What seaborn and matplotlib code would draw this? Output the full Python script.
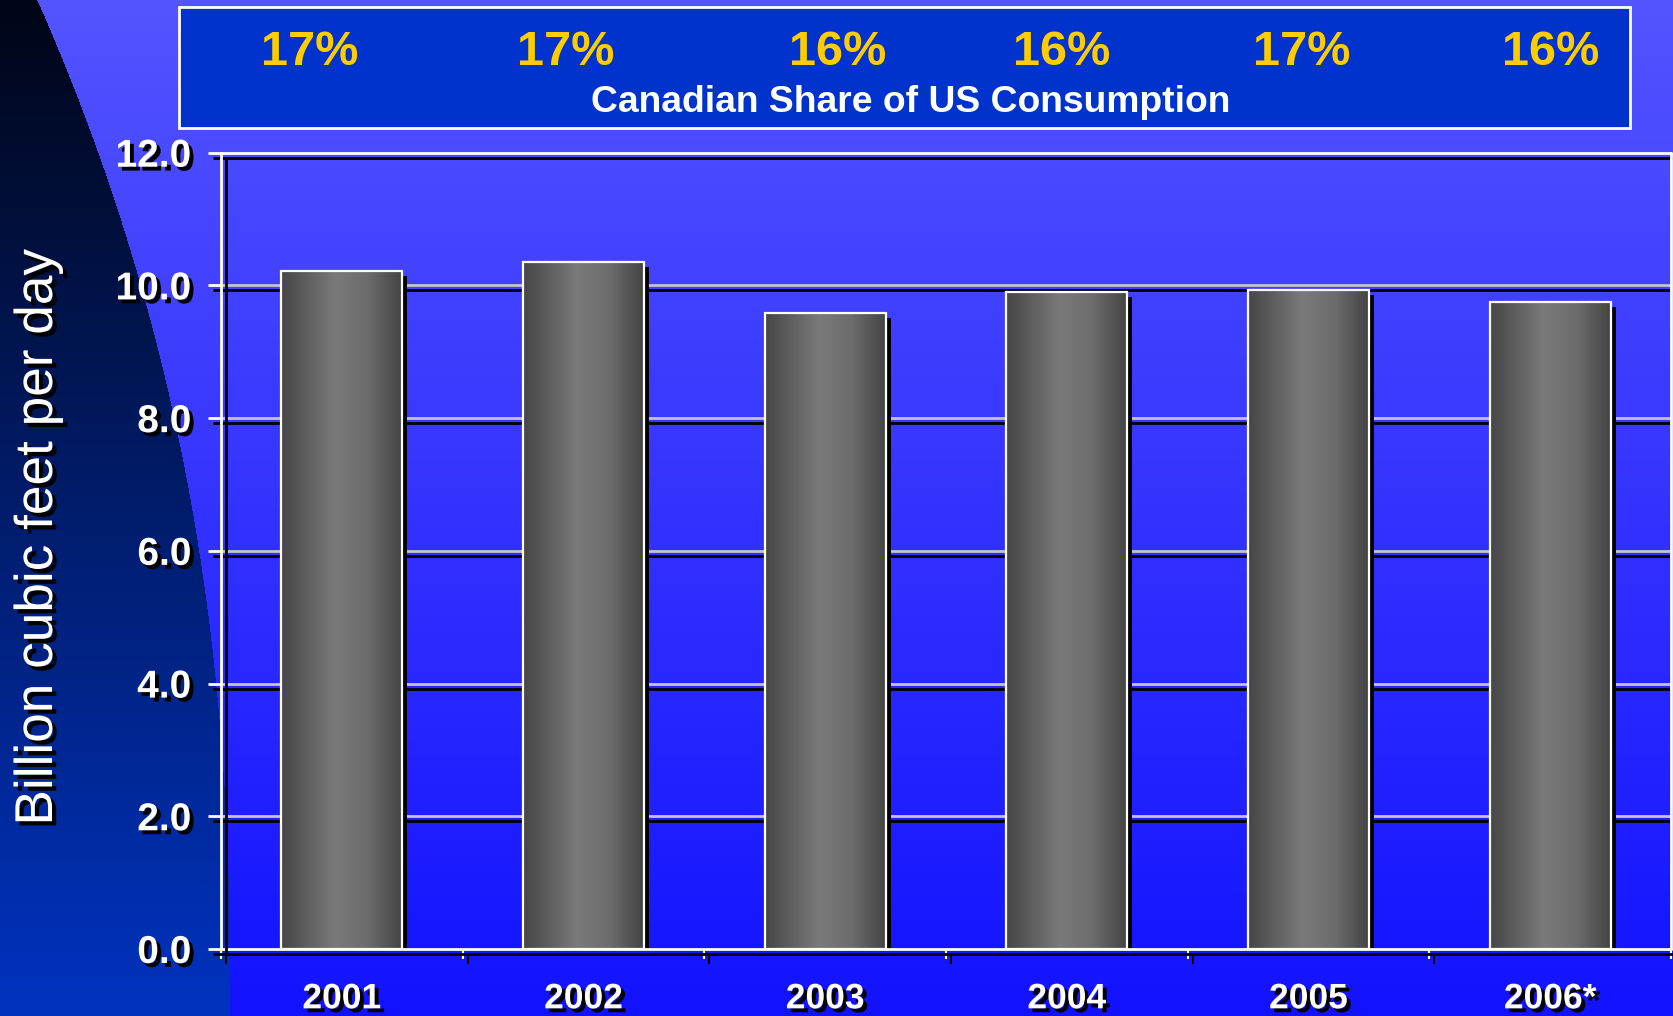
import numpy as np
import pandas as pd
import matplotlib
matplotlib.use("Agg")
import matplotlib.pyplot as plt
import matplotlib.patheffects as pe
from matplotlib.patches import Rectangle
from matplotlib.colors import LinearSegmentedColormap
import seaborn as sns

# ---------------- data ----------------
years = ["2001", "2002", "2003", "2004", "2005", "2006*"]
exports_bcfd = [10.21, 10.35, 9.58, 9.90, 9.93, 9.75]
canadian_share = ["17%", "17%", "16%", "16%", "17%", "16%"]
y_ticks = [0, 2, 4, 6, 8, 10, 12]
y_tick_labels = ["0.0", "2.0", "4.0", "6.0", "8.0", "10.0", "12.0"]
share_title = "Canadian Share of US Consumption"
y_title = "Billion cubic feet per day"

# ---------------- layout (pixels of the 1674x1016 canvas) ----------------
W, H, DPI = 1674, 1016, 100
share_label_x_px = [310, 566, 838, 1062, 1302, 1551]

sns.set_theme(style="white")
plt.rcParams["font.family"] = ["Liberation Sans", "DejaVu Sans"]

fig = plt.figure(figsize=(W / DPI, H / DPI), dpi=DPI)

# ---------------- slide background ----------------
bg = fig.add_axes([0, 0, 1, 1], zorder=-10)
yy, xx = np.mgrid[0:H, 0:W]
t = (yy / (H - 1))[..., None]
curve = 230 - 193 * (1 - yy / H) ** 2.33
is_left = (xx < curve)[..., None]
top_blue = np.array([0x54, 0x54, 0xFF]) / 255
bot_blue = np.array([0x12, 0x12, 0xFF]) / 255
top_dark = np.array([0x00, 0x05, 0x16]) / 255
bot_dark = np.array([0x00, 0x33, 0xC0]) / 255
blue = top_blue + (bot_blue - top_blue) * t
dark = top_dark + (bot_dark - top_dark) * t
img = np.where(is_left, dark, blue)
bg.imshow(img, extent=[0, W, H, 0], aspect="auto", interpolation="bilinear")
bg.set_xlim(0, W)
bg.set_ylim(H, 0)
bg.axis("off")

# ---------------- main axes ----------------
ax = fig.add_axes([221 / W, 1 - 949 / H, (1671 - 221) / W, (949 - 152.7) / H])
ax.patch.set_alpha(0)
for s in ax.spines.values():
    s.set_visible(False)

df = pd.DataFrame({"year": years, "value": exports_bcfd})
sns.barplot(data=df, x="year", y="value", ax=ax, width=0.5, color="#606060",
            saturation=1, edgecolor="none", zorder=3)

shadow_pt = 3.6
bar_shadow = [pe.SimplePatchShadow(offset=(shadow_pt, -shadow_pt),
                                   shadow_rgbFace="black", alpha=1), pe.Normal()]
grad_cmap = LinearSegmentedColormap.from_list(
    "cyl", [(0.0, "#464646"), (0.45, "#7a7a7a"), (0.72, "#6c6c6c"), (1.0, "#444444")])
grad = np.linspace(0, 1, 256)[None, :]

for p in list(ax.patches):
    p.set_path_effects(bar_shadow)
    x0, w, h = p.get_x(), p.get_width(), p.get_height()
    im = ax.imshow(grad, cmap=grad_cmap, extent=[x0, x0 + w, 0, h],
                   aspect="auto", zorder=3.5, interpolation="bilinear")
    im.set_clip_path(p)
    ax.add_patch(Rectangle((x0, 0), w, h, fill=False, edgecolor="white",
                           linewidth=1.6, zorder=4))

line_shadow = [pe.SimpleLineShadow(offset=(shadow_pt, -shadow_pt),
                                   shadow_color="black", alpha=1), pe.Normal()]

# gridlines
for v in y_ticks[1:-1]:
    ax.axhline(v, color="#c4c4cc", lw=2, zorder=1, path_effects=line_shadow)

# frame
ax.axhline(y_ticks[-1], color="white", lw=2, zorder=1.5, clip_on=False,
           path_effects=line_shadow)
ax.axhline(y_ticks[0], color="white", lw=2, zorder=5, clip_on=False,
           path_effects=line_shadow)
ax.axvline(-0.5, color="white", lw=2, zorder=5, clip_on=False,
           path_effects=line_shadow)
ax.axvline(len(years) - 0.5, color="white", lw=2, zorder=5, clip_on=False)

ax.set_xlim(-0.5, len(years) - 0.5)
ax.set_ylim(y_ticks[0], y_ticks[-1])
ax.set_xlabel("")
ax.set_ylabel("")

text_shadow = [pe.withSimplePatchShadow(offset=(2.8, -2.8),
                                        shadow_rgbFace="black", alpha=1)]

# y ticks
ax.set_yticks(y_ticks, y_tick_labels)
ax.tick_params(axis="y", which="major", left=True, length=9.4, width=2,
               color="white", pad=12, labelsize=28, labelcolor="white",
               direction="out")
for lab in ax.get_yticklabels():
    lab.set_fontweight("bold")
    lab.set_path_effects(text_shadow)
for tk in ax.yaxis.get_major_ticks():
    tk.tick1line.set_path_effects(line_shadow)

# x ticks
ax.set_xticks(range(len(years)), years)
ax.set_xticks(np.arange(-0.5, len(years), 1.0), minor=True)
ax.tick_params(axis="x", which="major", bottom=True, length=0, pad=24,
               labelsize=25.5, labelcolor="white")
ax.tick_params(axis="x", which="minor", bottom=True, length=7.5, width=1.5,
               color="white", direction="out")
for lab in ax.get_xticklabels():
    lab.set_fontweight("bold")
    lab.set_path_effects(text_shadow)
for tk in ax.xaxis.get_minor_ticks():
    tk.tick1line.set_path_effects(line_shadow)

# y axis title
fig.text(38 / W, 1 - 537 / H, y_title, rotation=90, ha="center", va="center",
         fontsize=38.3, color="white",
         path_effects=[pe.withSimplePatchShadow(offset=(3, -3),
                                                shadow_rgbFace="black", alpha=1)])

# share box
fig.add_artist(Rectangle((179 / W, 1 - 128 / H), (1630 - 179) / W, (128 - 7.5) / H,
                         transform=fig.transFigure, facecolor="#0033cc",
                         edgecolor="white", linewidth=2, zorder=1))
for xp, s in zip(share_label_x_px, canadian_share):
    fig.text(xp / W, 1 - 65 / H, s, ha="center", va="baseline", fontsize=35,
             fontweight="bold", color="#ffcc00", zorder=2)
fig.text(911 / W, 1 - 112 / H, share_title, ha="center", va="baseline",
         fontsize=26.8, fontweight="bold", color="white", zorder=2)

fig.savefig("out.png", dpi=DPI)
